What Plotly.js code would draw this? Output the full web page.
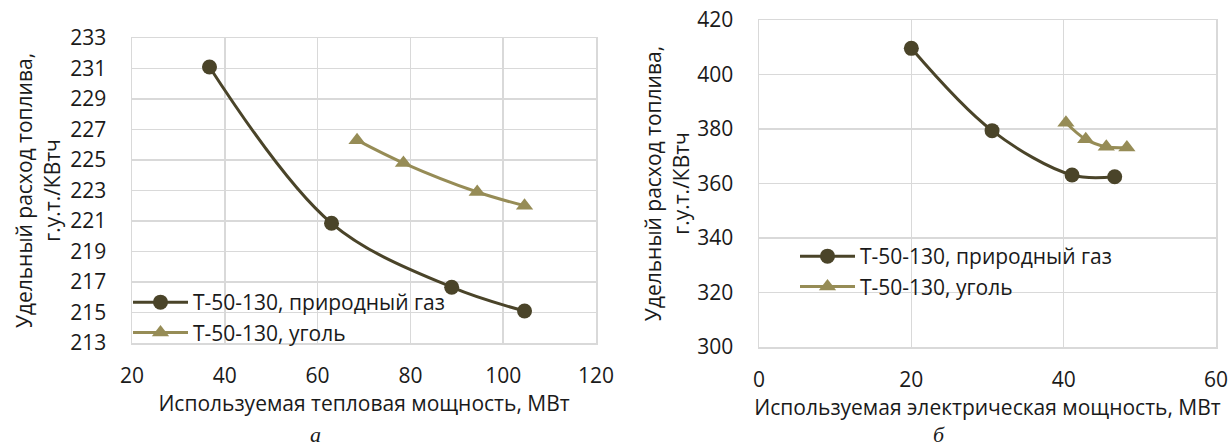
<!DOCTYPE html>
<html>
<head>
<meta charset="utf-8">
<script src="https://cdn.plot.ly/plotly-3.0.1.min.js"></script>
<style>
html,body{margin:0;padding:0;background:#fff;}
#chart{width:1232px;height:448px;}
</style>
</head>
<body>
<div id="chart"></div>
<script>
// Chart a: thermal power
const gasThermalX = [36.7, 63.0, 88.9, 104.6];
const gasThermalY = [231.1, 220.85, 216.66, 215.1];
const coalThermalX = [68.5, 78.5, 94.4, 104.6];
const coalThermalY = [226.3, 224.8, 222.9, 222.0];
// Chart б: electric power
const gasElecX = [20.0, 30.6, 41.1, 46.7];
const gasElecY = [409.6, 379.4, 363.1, 362.5];
const coalElecX = [40.3, 42.9, 45.6, 48.3];
const coalElecY = [382.3, 376.2, 373.5, 373.2];

const seriesNames = ['Т-50-130, природный газ', 'Т-50-130, уголь'];
const xTitleA = 'Используемая тепловая мощность, МВт';
const xTitleB = 'Используемая электрическая мощность, МВт';
const yTitle = 'Удельный расход топлива,<br>г.у.т./КВтч';
const captions = ['а', 'б'];

const gasColor = '#4A4429';
const coalColor = '#968C56';
const fontFam = '"Open Sans", "Noto Sans", sans-serif';
const txtColor = '#1a1a1a';
const FS = 21;

function gasTrace(x, y, xa, ya, lg, show) {
  return {x, y, xaxis: xa, yaxis: ya, type: 'scatter', mode: 'lines+markers',
    name: seriesNames[0], legend: lg, showlegend: show,
    line: {color: gasColor, width: 3, shape: 'spline', smoothing: 1},
    marker: {color: gasColor, size: 15, symbol: 'circle'}};
}
function coalTrace(x, y, xa, ya, lg, show) {
  return {x, y, xaxis: xa, yaxis: ya, type: 'scatter', mode: 'lines+markers',
    name: seriesNames[1], legend: lg, showlegend: show,
    line: {color: coalColor, width: 3, shape: 'spline', smoothing: 1},
    marker: {color: coalColor, size: 15, symbol: 'triangle-up'}};
}

const data = [
  gasTrace(gasThermalX, gasThermalY, 'x', 'y', 'legend', true),
  coalTrace(coalThermalX, coalThermalY, 'x', 'y', 'legend', true),
  gasTrace(gasElecX, gasElecY, 'x2', 'y2', 'legend2', true),
  coalTrace(coalElecX, coalElecY, 'x2', 'y2', 'legend2', true)
];

const W = 1232, H = 448;
const axisCommon = {
  showgrid: true, gridcolor: '#D9D9D9', gridwidth: 1.5,
  showline: true, linecolor: '#D9D9D9', linewidth: 1.5, mirror: true,
  zeroline: false, ticks: '', tickfont: {family: fontFam, size: FS, color: txtColor},
  fixedrange: true
};

const layout = {
  width: W, height: H,
  margin: {l: 0, r: 0, t: 0, b: 0},
  paper_bgcolor: '#fff', plot_bgcolor: '#fff',
  font: {family: fontFam, color: txtColor},
  xaxis: Object.assign({}, axisCommon, {
    domain: [132 / W, 596 / W], anchor: 'y', range: [20, 120], tick0: 20, dtick: 20,
    ticklabelstandoff: 13,
    title: {text: xTitleA, font: {family: fontFam, size: FS, color: txtColor}, standoff: 4}
  }),
  yaxis: Object.assign({}, axisCommon, {
    domain: [(H - 343) / H, (H - 38) / H], anchor: 'x', range: [213, 233], tick0: 213, dtick: 2,
    ticklabelstandoff: 20,
    title: {text: yTitle, font: {family: fontFam, size: FS, color: txtColor}, standoff: 4}
  }),
  xaxis2: Object.assign({}, axisCommon, {
    domain: [759 / W, 1216 / W], anchor: 'y2', range: [0, 60], tick0: 0, dtick: 20,
    ticklabelstandoff: 13,
    title: {text: xTitleB, font: {family: fontFam, size: FS, color: txtColor}, standoff: 4}
  }),
  yaxis2: Object.assign({}, axisCommon, {
    domain: [(H - 347) / H, (H - 20) / H], anchor: 'x2', range: [300, 420], tick0: 300, dtick: 20,
    ticklabelstandoff: 20,
    title: {text: yTitle, font: {family: fontFam, size: FS, color: txtColor}, standoff: 2}
  }),
  legend: {
    x: 128 / W, xanchor: 'left', y: (H - 282) / H, yanchor: 'top',
    bgcolor: 'rgba(0,0,0,0)', itemwidth: 55, tracegroupgap: 0,
    font: {family: fontFam, size: FS, color: txtColor}
  },
  legend2: {
    x: 795 / W, xanchor: 'left', y: (H - 236) / H, yanchor: 'top',
    bgcolor: 'rgba(0,0,0,0)', itemwidth: 55, tracegroupgap: 0,
    font: {family: fontFam, size: FS, color: txtColor}
  },
  annotations: [
    {text: '<i>' + captions[0] + '</i>', xref: 'paper', yref: 'paper', x: 315 / W, y: (H - 434) / H,
     xanchor: 'center', yanchor: 'middle', showarrow: false,
     font: {family: '"Liberation Serif", "DejaVu Serif", serif', size: 22, color: txtColor}},
    {text: '<i>' + captions[1] + '</i>', xref: 'paper', yref: 'paper', x: 939 / W, y: (H - 434) / H,
     xanchor: 'center', yanchor: 'middle', showarrow: false,
     font: {family: '"Liberation Serif", "DejaVu Serif", serif', size: 22, color: txtColor}}
  ],
  showlegend: true
};

Plotly.newPlot('chart', data, layout, {displayModeBar: false, staticPlot: true});
</script>
</body>
</html>
